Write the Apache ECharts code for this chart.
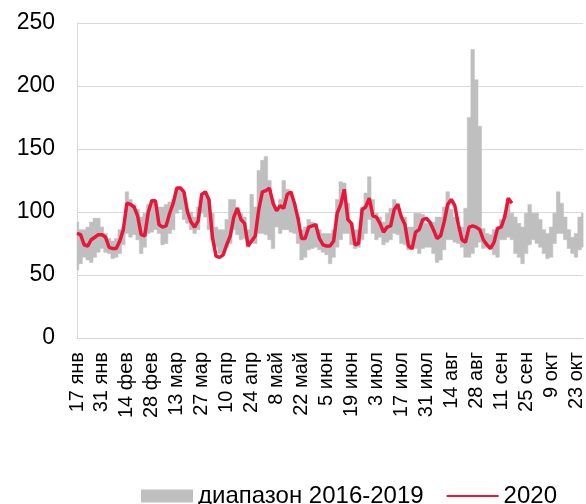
<!DOCTYPE html>
<html>
<head>
    <meta charset="UTF-8">
    <title></title>
    <script src="https://cdn.jsdelivr.net/npm/echarts@6/dist/echarts.min.js"></script>
    <style type="text/css">
        html, body { margin:0; padding:0; background:#fff; }
        #main1 { width:586px; height:504px; }
    </style>
</head>
<body>
<div id="main1"></div>
<script type="text/javascript">
    // categories: every 2 days from 17 Jan 2020
    var startDay = 17;
    var stepDays = 2;
    var monthNames = ['янв', 'фев', 'мар', 'апр', 'май', 'июн', 'июл', 'авг', 'сен', 'окт', 'ноя', 'дек'];
    var yTicks = [0, 50, 100, 150, 200, 250];

    // 2016-2019 min / max
    var rangeHigh = [
        92, 86, 86, 88, 92, 95, 95, 88, 83, 79,
        77, 79, 86, 88, 116, 110, 106, 102, 96, 99,
        106, 110, 107, 104, 104, 106, 108, 110, 119, 120,
        115, 102, 100, 96, 104, 115, 116, 110, 99, 88,
        86, 86, 94, 110, 110, 104, 99, 96, 86, 114,
        104, 133, 141, 144, 125, 110, 103, 110, 125, 118,
        115, 107, 96, 86, 88, 94, 92, 91, 86, 83,
        83, 83, 86, 110, 124, 123, 107, 91, 86, 86,
        104, 115, 128, 110, 99, 96, 92, 99, 103, 110,
        107, 96, 96, 88, 88, 99, 99, 98, 91, 91,
        92, 96, 96, 104, 116, 102, 96, 88, 88, 103,
        175, 229, 205, 168, 87, 83, 82, 86, 88, 94,
        98, 110, 99, 96, 91, 88, 99, 106, 99, 99,
        94, 86, 83, 88, 99, 116, 107, 96, 86, 80,
        83, 96, 99
    ];
    var rangeLow = [
        54, 59, 64, 62, 60, 64, 68, 71, 68, 67,
        63, 64, 67, 74, 83, 80, 82, 78, 67, 72,
        83, 84, 86, 83, 74, 75, 83, 86, 99, 102,
        94, 91, 86, 83, 86, 99, 96, 86, 78, 72,
        67, 67, 72, 75, 86, 82, 78, 79, 72, 76,
        75, 83, 83, 82, 78, 71, 88, 83, 86, 86,
        84, 83, 75, 62, 64, 70, 71, 72, 70, 68,
        66, 59, 64, 72, 78, 83, 83, 74, 71, 72,
        78, 83, 94, 83, 78, 80, 74, 76, 78, 83,
        82, 75, 74, 70, 70, 71, 67, 71, 72, 72,
        67, 60, 62, 70, 78, 78, 76, 75, 72, 64,
        64, 67, 72, 76, 71, 72, 71, 66, 64, 78,
        78, 80, 78, 67, 64, 59, 67, 74, 78, 75,
        72, 67, 63, 64, 75, 83, 83, 78, 71, 67,
        64, 70, 72
    ];
    // 2020
    var values2020 = [
        83, 82, 74, 73, 78, 80, 82, 82, 80, 72,
        71, 71, 77, 86, 107, 106, 104, 97, 82, 81,
        100, 109, 109, 90, 88, 89, 99, 107, 119, 119,
        116, 100, 92, 88, 93, 114, 116, 110, 80, 65,
        64, 66, 74, 81, 96, 103, 94, 91, 73, 77,
        81, 102, 116, 117, 119, 107, 101, 105, 103, 114,
        116, 107, 95, 79, 79, 88, 89, 90, 79, 74,
        73, 73, 77, 99, 106, 118, 94, 91, 74, 75,
        102, 104, 111, 97, 96, 91, 84, 88, 89, 102,
        106, 96, 90, 73, 71, 84, 86, 94, 95, 92,
        86, 79, 81, 92, 106, 110, 105, 90, 78, 76,
        88, 89, 88, 86, 78, 74, 71, 76, 87, 88,
        96, 111, 107
    ];

    var dates = [];
    for (var i = 0; i < rangeHigh.length; i++) {
        var d = new Date(2020, 0, startDay + i * stepDays);
        dates.push(d.getDate() + ' ' + monthNames[d.getMonth()]);
    }
    var bandData = rangeHigh.map(function (v, i) { return [i, rangeLow[i], v]; });

    // whole band as one stepped polygon, so no seams between columns
    function renderBand(params, api) {
        if (params.dataIndex !== 0) return null;
        var cs = params.coordSys;
        var half = api.size([1, 0])[0] / 2;
        var top = [], bottom = [];
        for (var k = 0; k < rangeHigh.length; k++) {
            var pHi = api.coord([k, rangeHigh[k]]);
            var pLo = api.coord([k, rangeLow[k]]);
            var x0 = Math.max(cs.x, pHi[0] - half);
            var x1 = Math.min(cs.x + cs.width, pHi[0] + half);
            top.push([x0, pHi[1]], [x1, pHi[1]]);
            bottom.push([x0, pLo[1]], [x1, pLo[1]]);
        }
        return {
            type: 'polygon',
            shape: {points: top.concat(bottom.reverse())},
            style: {fill: '#bfbfbf', stroke: '#bfbfbf', lineWidth: 0.5}
        };
    }

    var font = 'Liberation Sans';
    var myChart1 = echarts.init(document.getElementById('main1'));
    var option1 = {
        animation: false,
        grid: {left: 77, top: 23, width: 508, height: 315},
        legend: {
            left: 136,
            top: 479,
            itemWidth: 52,
            itemHeight: 13,
            itemGap: 22,
            data: [
                {name: 'диапазон 2016-2019', icon: 'rect', itemStyle: {color: '#bfbfbf'}},
                {name: '2020', itemStyle: {opacity: 0}}
            ],
            textStyle: {fontFamily: font, fontSize: 24, color: '#000'}
        },
        xAxis: {
            type: 'category',
            data: dates,
            boundaryGap: false,
            axisLine: {lineStyle: {color: '#d9d9d9'}},
            axisTick: {show: false},
            axisLabel: {
                interval: 6,
                rotate: 90,
                margin: 14,
                fontFamily: font,
                fontSize: 20,
                color: '#000'
            }
        },
        yAxis: {
            type: 'value',
            min: yTicks[0],
            max: yTicks[yTicks.length - 1],
            interval: 50,
            axisLine: {show: true, lineStyle: {color: '#d9d9d9'}},
            axisTick: {show: false},
            splitLine: {lineStyle: {color: '#d9d9d9'}},
            axisLabel: {margin: 22, fontFamily: font, fontSize: 23, color: '#000'}
        },
        series: [
            {
                name: 'диапазон 2016-2019',
                type: 'custom',
                data: bandData,
                encode: {x: 0, y: [1, 2]},
                renderItem: renderBand,
                silent: true,
                itemStyle: {color: '#bfbfbf'}
            },
            {
                name: '2020',
                type: 'line',
                data: values2020,
                symbol: 'none',
                z: 3,
                itemStyle: {color: '#e8173a'},
                lineStyle: {color: '#e8173a', width: 3.5}
            }
        ]
    };
    myChart1.setOption(option1);
</script>
</body>
</html>
